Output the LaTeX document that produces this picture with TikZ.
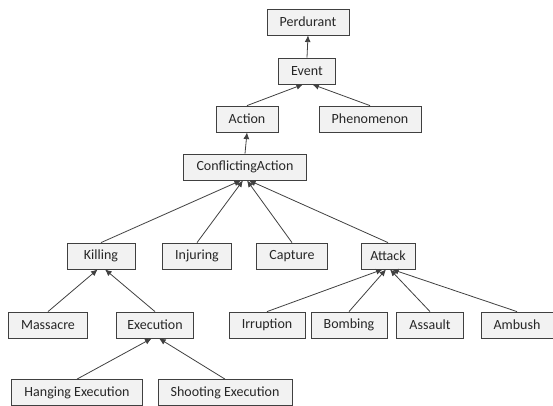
\documentclass[tikz,border=0pt]{standalone}
\usepackage{xcolor}
\usepackage{fontspec}
\setmainfont{Carlito}
\usepackage{tikz}
\usetikzlibrary{arrows.meta, positioning}
\definecolor{ontoLine}{HTML}{404040}
\definecolor{ontoFill}{HTML}{F2F2F2}

\begin{document}
\begin{tikzpicture}[
  x=0.75pt, y=-0.75pt,
  box/.style={draw=ontoLine, fill=ontoFill, align=center, text=black!85,
              font=\fontsize{10.5}{12}\selectfont, minimum height=19.5pt,
              inner xsep=9.5pt, inner ysep=0pt, line width=0.6pt},
  arr/.style={-{Latex[length=5pt,width=4.5pt]}, draw=ontoLine, line width=0.6pt}
]
  \useasboundingbox (0,0) rectangle (553,405);
  \clip (0,0) rectangle (553,405);

  \node[box] (perdurant) at (308,22) {Perdurant};
  \node[box] (event) at (307,71) {Event};
  \node[box] (action) at (247,119) {Action};
  \node[box] (phenom) at (370,119) {Phenomenon};
  \node[box] (conflict) at (245,167) {ConflictingAction};
  \node[box, minimum width=51pt] (killing) at (101,256) {Killing};
  \node[box] (injuring) at (197,256) {Injuring};
  \node[box] (capture) at (292,256) {Capture};
  \node[box, inner xsep=7pt] (attack) at (388,256) {Attack};
  \node[box] (massacre) at (48,325) {Massacre};
  \node[box, inner xsep=8pt] (execution) at (155,325) {Execution};
  \node[box] (irruption) at (267,325) {Irruption};
  \node[box] (bombing) at (349,325) {Bombing};
  \node[box] (assault) at (430,325) {Assault};
  \node[box] (ambush) at (517,325) {Ambush};
  \node[box] (hanging) at (77,392.5) {Hanging Execution};
  \node[box] (shooting) at (225,392.5) {Shooting Execution};

  \draw[arr] (event.north) -- (perdurant.south);
  \draw[arr] (action.north) -- ([xshift=-3pt]event.south);
  \draw[arr] (phenom.north) -- ([xshift=4pt]event.south);
  \draw[arr] (conflict.north) -- (action.south);
  \draw[arr] (killing.north) -- ([xshift=-3pt]conflict.south);
  \draw[arr] (injuring.north) -- ([xshift=-1.5pt]conflict.south);
  \draw[arr] (capture.north) -- ([xshift=1.5pt]conflict.south);
  \draw[arr] (attack.north) -- ([xshift=3pt]conflict.south);
  \draw[arr] (massacre.north) -- ([xshift=-2.5pt]killing.south);
  \draw[arr] (execution.north) -- ([xshift=3pt]killing.south);
  \draw[arr] (irruption.north) -- ([xshift=-4pt]attack.south);
  \draw[arr] (bombing.north) -- ([xshift=-1.5pt]attack.south);
  \draw[arr] (assault.north) -- ([xshift=1.5pt]attack.south);
  \draw[arr] (ambush.north) -- ([xshift=3pt]attack.south);
  \draw[arr] (hanging.north) -- ([xshift=-2.5pt]execution.south);
  \draw[arr] (shooting.north) -- ([xshift=3pt]execution.south);
\end{tikzpicture}
\end{document}
